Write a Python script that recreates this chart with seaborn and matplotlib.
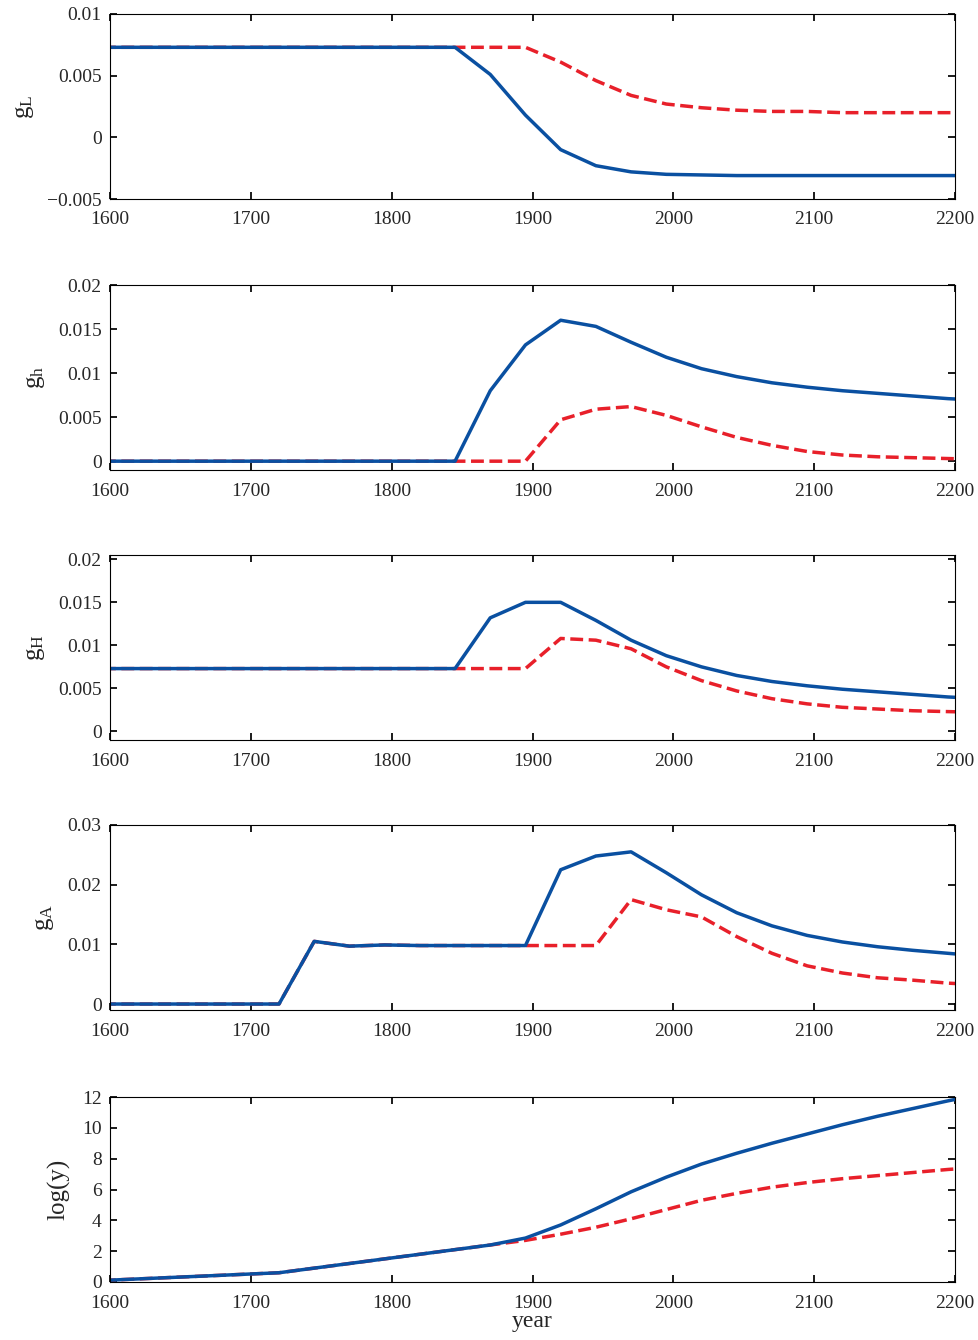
import seaborn as sns
import matplotlib.pyplot as plt
import numpy as np
import pandas as pd

years = np.arange(1595, 2221, 25)

gL_blue = [0.0073]*11 + [0.0051, 0.0018, -0.001, -0.0023, -0.0028, -0.003, -0.00305,
                         -0.0031, -0.0031, -0.0031, -0.0031, -0.0031, -0.0031, -0.0031, -0.0031]
gL_red = [0.0073]*13 + [0.0061, 0.0046, 0.0034, 0.0027, 0.0024, 0.0022, 0.0021,
                        0.0021, 0.0020, 0.0020, 0.0020, 0.0020, 0.0020]
gh_blue = [0.0]*11 + [0.008, 0.0132, 0.016, 0.0153, 0.0135, 0.0118, 0.0105, 0.0096,
                      0.0089, 0.0084, 0.008, 0.0077, 0.0074, 0.0071, 0.0069]
gh_red = [0.0]*13 + [0.0047, 0.0059, 0.0062, 0.0052, 0.0039, 0.0027, 0.0018, 0.0011,
                     0.0007, 0.0005, 0.0004, 0.0003, 0.0002]
gH_blue = [0.0073]*11 + [0.0132, 0.015, 0.015, 0.0129, 0.0106, 0.0088, 0.0075, 0.0065,
                         0.0058, 0.0053, 0.0049, 0.0046, 0.0043, 0.0040, 0.0038]
gH_red = [0.0073]*13 + [0.0108, 0.0106, 0.0096, 0.0075, 0.0059, 0.0047, 0.0038, 0.0032,
                        0.0028, 0.0026, 0.0024, 0.0023, 0.0022]
gA_blue = [0.0]*6 + [0.0105, 0.0097, 0.0099, 0.0098, 0.0098, 0.0098, 0.0098, 0.0225, 0.0248,
                     0.0255, 0.022, 0.0183, 0.0153, 0.0131, 0.0115, 0.0104, 0.0096, 0.009,
                     0.0085, 0.008]
gA_red = [0.0]*6 + [0.0105, 0.0097, 0.0099, 0.0098, 0.0098, 0.0098, 0.0098, 0.0098, 0.0098,
                    0.0175, 0.0158, 0.0146, 0.0113, 0.0085, 0.0064, 0.0052, 0.0044, 0.004,
                    0.0035, 0.0032]
logy_blue = [0.1, 0.2, 0.3, 0.4, 0.5, 0.6, 0.9, 1.2, 1.5, 1.8, 2.1, 2.4, 2.85, 3.7, 4.75,
             5.85, 6.8, 7.65, 8.35, 9.0, 9.6, 10.2, 10.75, 11.25, 11.75, 12.2]
logy_red = [0.1, 0.2, 0.3, 0.4, 0.5, 0.6, 0.9, 1.2, 1.5, 1.8, 2.1, 2.4, 2.7, 3.1, 3.55,
            4.1, 4.7, 5.3, 5.75, 6.15, 6.45, 6.7, 6.9, 7.1, 7.3, 7.45]

panels = [
    (r'$\mathregular{g_L}$', gL_blue, gL_red, (-0.005, 0.01), [-0.005, 0, 0.005, 0.01],
     ['\u22120.005', '0', '0.005', '0.01']),
    (r'$\mathregular{g_h}$', gh_blue, gh_red, (-0.001, 0.02), [0, 0.005, 0.01, 0.015, 0.02],
     ['0', '0.005', '0.01', '0.015', '0.02']),
    (r'$\mathregular{g_H}$', gH_blue, gH_red, (-0.001, 0.0205), [0, 0.005, 0.01, 0.015, 0.02],
     ['0', '0.005', '0.01', '0.015', '0.02']),
    (r'$\mathregular{g_A}$', gA_blue, gA_red, (-0.001, 0.03), [0, 0.01, 0.02, 0.03],
     ['0', '0.01', '0.02', '0.03']),
    ('log(y)', logy_blue, logy_red, (0, 12), [0, 2, 4, 6, 8, 10, 12],
     ['0', '2', '4', '6', '8', '10', '12']),
]

sns.set_theme(style="ticks")
plt.rcParams['font.family'] = ['Liberation Serif', 'DejaVu Serif']
plt.rcParams['mathtext.fontset'] = 'stix'

blue = '#0a50a1'
red = '#e8202a'
fig = plt.figure(figsize=(9.79, 13.4), dpi=100)
tops = [14, 285, 555, 825, 1097]
for (label, b, r, ylim, yt, ytl), top in zip(panels, tops):
    ax = fig.add_axes([110/979, 1 - (top + 185)/1340, 845/979, 185/1340])
    df = pd.DataFrame({'year': years, 'b': b, 'r': r})
    sns.lineplot(data=df, x='year', y='r', ax=ax, color=red, lw=2.5, dashes=(3, 2.2), linestyle='--')
    sns.lineplot(data=df, x='year', y='b', ax=ax, color=blue, lw=2.5)
    ax.set_xlim(1600, 2200)
    ax.set_ylim(*ylim)
    ax.set_xticks(range(1600, 2201, 100))
    ax.set_yticks(yt)
    ax.set_yticklabels(ytl)
    ax.tick_params(direction='in', top=True, right=True, labelsize=14, length=5, color='black')
    ax.tick_params(axis='x', pad=9)
    ax.tick_params(axis='y', pad=6)
    for s in ax.spines.values():
        s.set_color('black')
        s.set_linewidth(0.8)
    ax.set_ylabel(label, fontsize=18, labelpad=8)
    ax.set_xlabel('')
ax.set_xlabel('year', fontsize=17, labelpad=0)

plt.savefig('out.png', dpi=100)
